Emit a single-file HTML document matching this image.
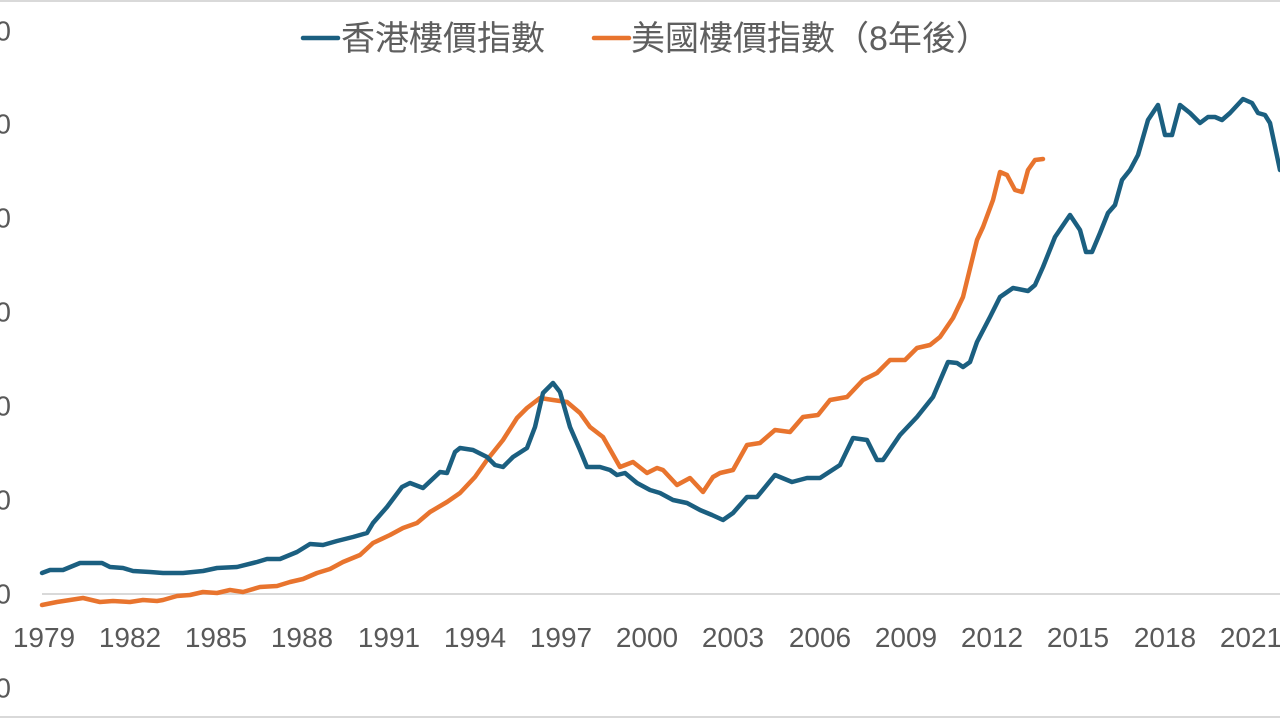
<!DOCTYPE html>
<html>
<head>
<meta charset="utf-8">
<style>
  html, body { margin:0; padding:0; background:#ffffff; }
  body { width:1280px; height:720px; overflow:hidden; }
  svg { display:block; }
  .ax { font-family:"Liberation Sans","Noto Sans CJK TC",sans-serif; font-size:28px; fill:#595959; }
  .lg { font-family:"Liberation Sans","Noto Sans CJK TC",sans-serif; font-size:34px; fill:#5f5f5f; }
</style>
</head>
<body>
<svg width="1280" height="720" viewBox="0 0 1280 720" xmlns="http://www.w3.org/2000/svg">
  <rect x="0" y="0" width="1280" height="720" fill="#ffffff"/>
  <line x1="0" y1="1" x2="1280" y2="1" stroke="#d9d9d9" stroke-width="2"/>
  <line x1="0" y1="717" x2="1280" y2="717" stroke="#d9d9d9" stroke-width="2"/>
  <line x1="42" y1="594" x2="1280" y2="594" stroke="#d9d9d9" stroke-width="2"/>

  <g class="ax" text-anchor="end" dominant-baseline="central">
    <text x="11" y="31">700</text>
    <text x="11" y="124">600</text>
    <text x="11" y="218">500</text>
    <text x="11" y="312">400</text>
    <text x="11" y="406">300</text>
    <text x="11" y="500">200</text>
    <text x="11" y="594">100</text>
    <text x="11" y="688">0</text>
  </g>

  <g class="ax" text-anchor="middle">
    <text x="44" y="647">1979</text>
    <text x="130" y="647">1982</text>
    <text x="216" y="647">1985</text>
    <text x="302" y="647">1988</text>
    <text x="389" y="647">1991</text>
    <text x="475" y="647">1994</text>
    <text x="561" y="647">1997</text>
    <text x="647" y="647">2000</text>
    <text x="733" y="647">2003</text>
    <text x="820" y="647">2006</text>
    <text x="906" y="647">2009</text>
    <text x="992" y="647">2012</text>
    <text x="1078" y="647">2015</text>
    <text x="1165" y="647">2018</text>
    <text x="1251" y="647">2021</text>
  </g>

  <line x1="303" y1="38" x2="338" y2="38" stroke="#1b5f80" stroke-width="4.5" stroke-linecap="round"/>
  <text class="lg" x="341" y="50">香港樓價指數</text>
  <line x1="594" y1="38" x2="629" y2="38" stroke="#e8742e" stroke-width="4.5" stroke-linecap="round"/>
  <text class="lg" x="631" y="50">美國樓價指數（8年後）</text>

  <polyline fill="none" stroke="#e8742e" stroke-width="4.5" stroke-linejoin="round" stroke-linecap="round"
    points="42,605 57,602 70,600 83,598 100,602 113,601 130,602 143,600 157,601 163,600 177,596 190,595 203,592 217,593 230,590 243,592 260,587 277,586 290,582 303,579 317,573 330,569 343,562 360,555 373,543 390,535 403,528 417,523 430,512 447,502 460,493 475,477 487,460 503,440 517,418 527,408 540,398 553,400 567,402 580,413 590,427 603,437 620,467 633,462 647,473 657,468 663,470 677,485 690,478 703,492 713,477 720,473 733,470 747,445 760,443 775,430 790,432 803,417 818,415 830,400 847,397 863,380 877,373 890,360 905,360 917,348 930,345 940,337 953,318 963,297 977,240 983,227 993,200 1000,172 1007,175 1015,190 1022,192 1028,170 1035,160 1043,159"/>

  <polyline fill="none" stroke="#1b5f80" stroke-width="4.5" stroke-linejoin="round" stroke-linecap="round"
    points="42,573 50,570 63,570 80,563 102,563 110,567 123,568 133,571 150,572 163,573 183,573 203,571 217,568 237,567 257,562 267,559 280,559 297,552 310,544 323,545 337,541 353,537 367,533 373,523 387,507 402,487 410,483 423,488 440,472 447,473 455,452 460,448 473,450 487,457 495,465 503,467 513,457 527,448 535,427 543,393 553,383 560,392 570,427 580,450 587,467 600,467 610,470 617,475 625,473 637,483 650,490 660,493 673,500 687,503 700,510 712,515 723,520 733,513 747,497 757,497 775,475 792,482 807,478 820,478 840,465 853,438 867,440 877,460 883,460 900,435 917,417 933,397 948,362 957,363 963,367 970,362 977,342 990,317 1000,297 1013,288 1028,291 1035,285 1043,267 1055,237 1070,215 1080,230 1086,252 1092,252 1100,233 1108,213 1115,205 1122,180 1130,170 1138,155 1148,120 1158,105 1165,135 1172,135 1180,105 1190,113 1200,123 1208,117 1215,117 1222,120 1230,113 1243,99 1252,103 1258,113 1265,115 1270,123 1280,170"/>
</svg>
</body>
</html>
